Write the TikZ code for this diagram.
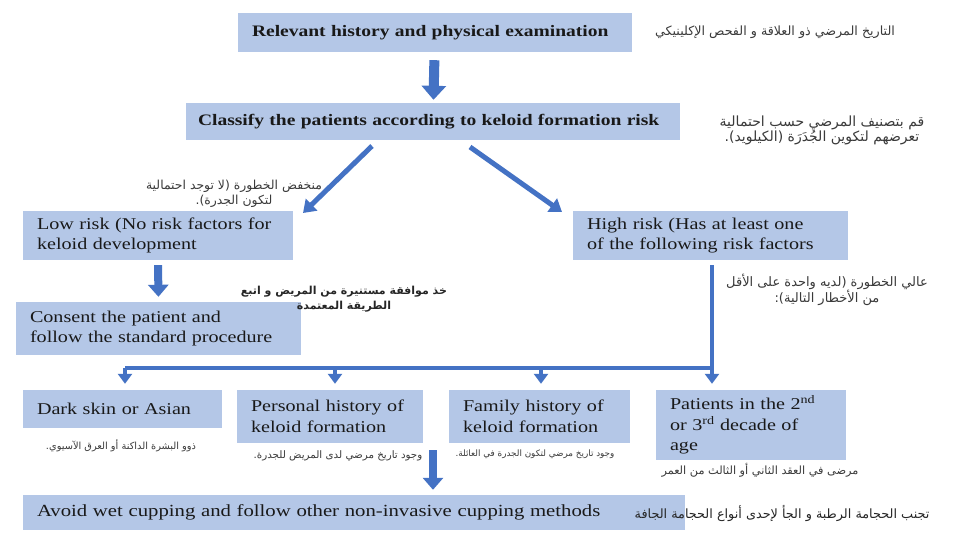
\documentclass[tikz,border=0pt]{standalone}
\usepackage{fontspec}
\setmainfont{Liberation Serif}[FakeStretch=1.22]
\newfontfamily\arabicfont[Script=Arabic]{DejaVu Sans}
\TeXXeTstate=1
\usetikzlibrary{arrows.meta}
\definecolor{boxblue}{HTML}{B4C7E7}
\definecolor{arrblue}{HTML}{4472C4}
\definecolor{argray}{HTML}{3A3A3A}
\newcommand{\arsize}[1]{\arabicfont\fontsize{#1}{15}\selectfont}
\tikzset{
  box/.style={fill=boxblue, inner xsep=14pt, inner ysep=0pt, align=left,
    font=\fontsize{16.5}{20.5}\selectfont, text=black!90},
  bbox/.style={box, font=\fontsize{16}{20}\selectfont\bfseries},
  ar/.style={text=argray, align=center, inner sep=0pt},
  arb/.style={ar, text=black!85},
  fatarrow/.style={draw=arrblue, line width=10pt, -{Triangle[width=24pt,length=14pt]}},
  midarrow/.style={draw=arrblue, line width=8pt, -{Triangle[width=20pt,length=12pt]}},
  diagarrow/.style={draw=arrblue, line width=5pt, -{Triangle[width=16pt,length=12pt]}},
  distline/.style={draw=arrblue, line width=4pt},
  distarrow/.style={draw=arrblue, line width=4pt, -{Triangle[width=14pt,length=10pt]}}
}
\begin{document}
\begin{tikzpicture}[x=1pt,y=-1pt]
\useasboundingbox[fill=white] (0,0) rectangle (960,540);

% boxes
\node[bbox, text width=366pt, minimum height=39pt] (b1) at (435,32.5) {Relevant history and physical examination};
\node[bbox, inner xsep=12pt, text width=470pt, minimum height=37pt] (b2) at (433,121.5) {Classify the patients according to keloid formation risk};
\node[box, text width=242pt, minimum height=49pt] (low) at (158,235.5) {Low risk (No risk factors for\\keloid development};
\node[box, text width=247pt, minimum height=49pt] (high) at (710.5,235.5) {High risk (Has at least one\\of the following risk factors};
\node[box, text width=257pt, minimum height=53pt] (consent) at (158.5,328.5) {Consent the patient and\\follow the standard procedure};
\node[box, text width=171pt, minimum height=38pt] (dark) at (122.5,409) {Dark skin or Asian};
\node[box, text width=158pt, minimum height=53pt] (pers) at (330,416.5) {Personal history of\\keloid formation};
\node[box, text width=153pt, minimum height=53pt] (fam) at (539.5,416.5) {Family history of\\keloid formation};
\node[box, text width=162pt, minimum height=70pt] (pat) at (751,425) {Patients in the 2\textsuperscript{nd}\\or 3\textsuperscript{rd} decade of\\age};
\node[box, text width=634pt, minimum height=35pt, font=\fontsize{17}{20}\selectfont] (avoid) at (354,512.5) {Avoid wet cupping and follow other non-invasive cupping methods};

% arabic texts
\node[ar, font=\arsize{12.7}] (t1) at (775,32) {\beginR التاريخ المرضي ذو العلاقة و الفحص الإكلينيكي\endR};
\node[ar, font=\arsize{14}] (t2) at (822,130) {\beginR قم بتصنيف المرضي حسب احتمالية\endR\\\beginR تعرضهم لتكوين الجُدَرَة (الكيلويد).\endR};
\node[ar, font=\arsize{12.4}] (t3) at (234,194) {\beginR منخفض الخطورة (لا توجد احتمالية\endR\\\beginR لتكون الجدرة).\endR};
\node[arb, font=\arabicfont\bfseries\fontsize{11}{15}\selectfont] (t4) at (344,299) {\beginR خذ موافقة مستنيرة من المريض و اتبع\endR\\\beginR الطريقة المعتمدة\endR};
\node[ar, font=\arsize{13}] (t5) at (827,290) {\beginR عالي الخطورة (لديه واحدة على الأقل\endR\\\beginR من الأخطار التالية):\endR};
\node[ar, font=\arsize{9.8}] (t6) at (121,446) {\beginR ذوو البشرة الداكنة أو العرق الآسيوي.\endR};
\node[ar, font=\arsize{10.3}] (t7) at (338,456) {\beginR وجود تاريخ مرضي لدى المريض للجدرة.\endR};
\node[ar, font=\arsize{8.8}] (t8) at (535,454) {\beginR وجود تاريخ مرضي لتكون الجدرة في العائلة.\endR};
\node[ar, font=\arsize{11.3}] (t9) at (760,470) {\beginR مرضى في العقد الثاني أو الثالث من العمر\endR};
\node[arb, font=\arsize{12.8}] (t10) at (782,513) {\beginR تجنب الحجامة الرطبة و الجأ لإحدى أنواع الحجامة الجافة\endR};

% connectors
\draw[fatarrow, shorten <=8pt, shorten >=3pt] (b1) -- (b2);
\coordinate (d1s) at (372,146);
\coordinate (d1e) at (303,213);
\coordinate (d2s) at (470,147);
\coordinate (d2e) at (562,212);
\draw[diagarrow] (d1s) -- (d1e);
\draw[diagarrow] (d2s) -- (d2e);
\draw[midarrow, shorten <=5pt, shorten >=5pt] (low.south) -- (consent.north);

\coordinate (hs) at (712,265);
\coordinate (hbar) at (712,368);
\coordinate (hl) at (125,368);
\draw[distarrow, shorten >=6pt] (hs) -- (pat.north -| hs);
\draw[distline] (hl) -- (hbar);
\draw[distarrow, shorten >=6pt] (hl) -- (dark.north -| hl);
\coordinate (hp) at (335,368);
\coordinate (hf) at (541,368);
\draw[distarrow, shorten >=6pt] (hp) -- (pers.north -| hp);
\draw[distarrow, shorten >=6pt] (hf) -- (fam.north -| hf);

\coordinate (av) at (433,450);
\draw[midarrow, shorten >=5pt] (av) -- (avoid.north -| av);
\end{tikzpicture}
\end{document}
